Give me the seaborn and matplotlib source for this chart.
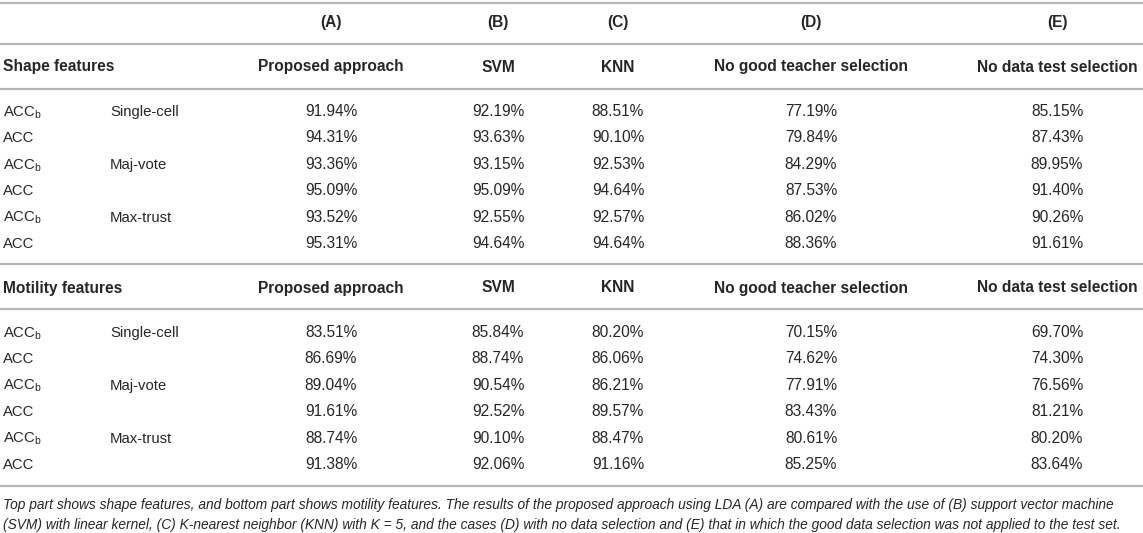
import matplotlib
matplotlib.use("Agg")
import matplotlib.pyplot as plt
import seaborn as sns

# Table content
col_letters = ["(A)", "(B)", "(C)", "(D)", "(E)"]
col_names = ["Proposed approach", "SVM", "KNN", "No good teacher selection", "No data test selection"]
metrics = ["ACC$_\\mathregular{b}$", "ACC"] * 3
strategies = ["Single-cell", "", "Maj-vote", "", "Max-trust", ""]

shape_values = [
    [91.94, 92.19, 88.51, 77.19, 85.15],
    [94.31, 93.63, 90.10, 79.84, 87.43],
    [93.36, 93.15, 92.53, 84.29, 89.95],
    [95.09, 95.09, 94.64, 87.53, 91.40],
    [93.52, 92.55, 92.57, 86.02, 90.26],
    [95.31, 94.64, 94.64, 88.36, 91.61],
]
motility_values = [
    [83.51, 85.84, 80.20, 70.15, 69.70],
    [86.69, 88.74, 86.06, 74.62, 74.30],
    [89.04, 90.54, 86.21, 77.91, 76.56],
    [91.61, 92.52, 89.57, 83.43, 81.21],
    [88.74, 90.10, 88.47, 80.61, 80.20],
    [91.38, 92.06, 91.16, 85.25, 83.64],
]
caption = [
    "Top part shows shape features, and bottom part shows motility features. The results of the proposed "
    "approach using LDA (A) are compared with the use of (B) support vector machine",
    "(SVM) with linear kernel, (C) K-nearest neighbor (KNN) with K = 5, and the cases (D) with no data "
    "selection and (E) that in which the good data selection was not applied to the test set.",
]

# Layout (pixel units, y measured from top)
W, H = 1143, 533
COL_X = [331, 498, 618, 811, 1057]
X_METRIC, X_STRAT = 3, 110
ROW_STEP = 26.4
BASE = 5.5  # centre -> baseline offset
TXT = "#262626"
RULE = "#b4b4b4"
FS_NUM = 11.2
FS_HEAD = 11.2
FS_LABEL = 10.7

sns.set_theme(style="white")
plt.rcParams["font.family"] = ["Liberation Sans", "DejaVu Sans"]

fig = plt.figure(figsize=(W / 100, H / 100), dpi=100)
ax = fig.add_axes([0, 0, 1, 1])
ax.set_xlim(0, W)
ax.set_ylim(H, 0)
ax.axis("off")

ax.hlines([3, 44, 89, 264, 309, 486], 0, W, color=RULE, lw=1.6)


def put(x, y, s, ha="left", **kw):
    ax.text(x, y + BASE, s, ha=ha, va="baseline", color=TXT, **kw)


for x, lab in zip(COL_X, col_letters):
    put(x, 22, lab, ha="center", fontsize=FS_HEAD, fontweight="bold")


def draw_block(title, y_head, y_first, values):
    put(X_METRIC, y_head, title, fontsize=FS_HEAD, fontweight="bold")
    for x, name in zip(COL_X, col_names):
        put(x, y_head, name, ha="center", fontsize=FS_HEAD, fontweight="bold")
    for i, (m, s, row) in enumerate(zip(metrics, strategies, values)):
        y = y_first + i * ROW_STEP
        put(X_METRIC, y, m, fontsize=FS_LABEL)
        if s:
            put(X_STRAT, y, s, fontsize=FS_LABEL)
        for x, v in zip(COL_X, row):
            put(x, y, f"{v:.2f}%", ha="center", fontsize=FS_NUM)


draw_block("Shape features", 66, 110.5, shape_values)
draw_block("Motility features", 287, 331.5, motility_values)

for k, line in enumerate(caption):
    put(3, 503 + k * 20, line, fontsize=9.95, style="italic")

fig.savefig("out.png", dpi=100)
